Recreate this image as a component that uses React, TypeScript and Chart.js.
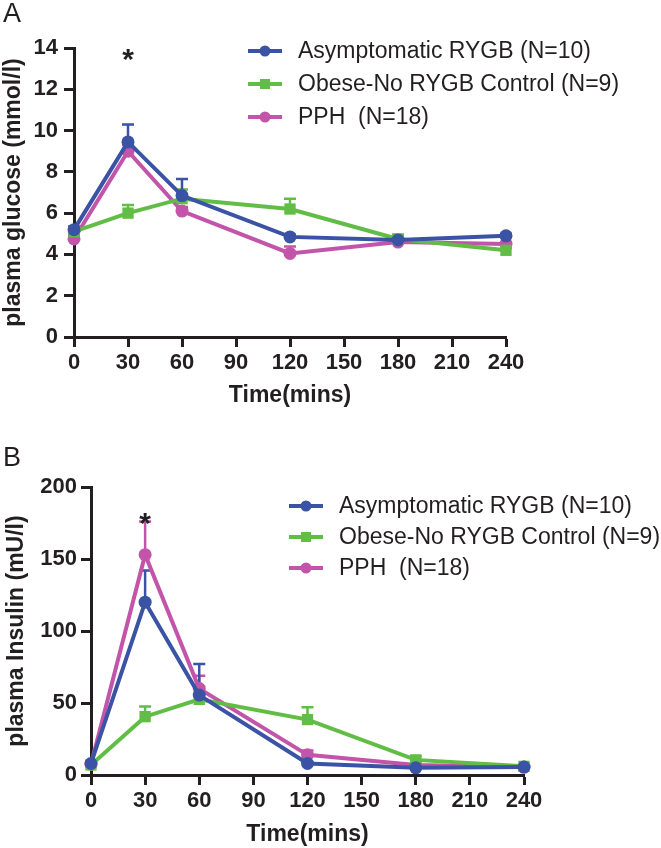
import React, { useEffect, useRef } from 'react';
import { Chart, registerables } from 'chart.js';

Chart.register(...registerables);

// ---------- data ----------
const TIMES = [0, 30, 60, 120, 180, 240];
const SERIES_LABELS = ['Asymptomatic RYGB (N=10)', 'Obese-No RYGB Control (N=9)', 'PPH  (N=18)'];
const SERIES_COLORS = ['#3a53a4', '#62bd46', '#c255aa'];
const SERIES_POINTS = ['circle', 'rect', 'circle'];

// Panel A: plasma glucose (mmol/l)
const GLUCOSE_RYGB = [5.2, 9.45, 6.85, 4.85, 4.7, 4.9];
const GLUCOSE_RYGB_SEM = [0.15, 0.85, 0.8, 0.1, 0.1, 0.1];
const GLUCOSE_CONTROL = [5.1, 6.0, 6.7, 6.2, 4.75, 4.2];
const GLUCOSE_CONTROL_SEM = [0.15, 0.4, 0.45, 0.5, 0.2, 0.1];
const GLUCOSE_PPH = [4.75, 9.0, 6.1, 4.05, 4.6, 4.5];
const GLUCOSE_PPH_SEM = [0.2, 0.3, 0.2, 0.33, 0.15, 0.1];

// Panel B: plasma insulin (mU/l)
const INSULIN_RYGB = [8, 120, 55.5, 8, 5, 5.5];
const INSULIN_RYGB_SEM = [1, 22, 21.5, 1, 1, 1];
const INSULIN_CONTROL = [7, 40.5, 52.5, 38.5, 10.5, 6];
const INSULIN_CONTROL_SEM = [1, 7, 9, 8.5, 2.5, 1];
const INSULIN_PPH = [7.5, 153, 60, 14, 7, 5.5];
const INSULIN_PPH_SEM = [1, 23, 9, 3, 1, 1];

// significance marks (time, level)
const STAR_A = { x: 30, y: 13.8 };
const STAR_B = { x: 30, y: 180 };

const AXIS_COLOR = '#231f20';
const FONT = '"Liberation Sans", Arial, Helvetica, sans-serif';

// ---------- plugins ----------
const errorBarPlugin = {
  id: 'errorBars',
  beforeDatasetsDraw(chart: any) {
    const { ctx } = chart;
    const xs = chart.scales.x;
    const ys = chart.scales.y;
    const dss = chart.data.datasets;
    for (let i = dss.length - 1; i >= 0; i--) {
      const ds = dss[i];
      const sem = ds.sem as number[];
      if (!sem) continue;
      ctx.save();
      ctx.strokeStyle = ds.borderColor;
      ctx.lineWidth = 2.5;
      ds.data.forEach((pt: any, j: number) => {
        const px = xs.getPixelForValue(pt.x);
        const py0 = ys.getPixelForValue(pt.y);
        const py1 = ys.getPixelForValue(pt.y + sem[j]);
        ctx.beginPath();
        ctx.moveTo(px, py0);
        ctx.lineTo(px, py1);
        ctx.moveTo(px - 6, py1);
        ctx.lineTo(px + 6, py1);
        ctx.stroke();
      });
      ctx.restore();
    }
  },
};

const decorPlugin = {
  id: 'decor',
  afterDraw(chart: any) {
    const o = chart.options.plugins.decor;
    if (!o) return;
    const { ctx } = chart;
    ctx.save();
    // panel letter
    ctx.fillStyle = AXIS_COLOR;
    ctx.font = `27px ${FONT}`;
    ctx.textAlign = 'left';
    ctx.textBaseline = 'alphabetic';
    ctx.fillText(o.letter, o.letterX, o.letterY);
    // star
    const sx = chart.scales.x.getPixelForValue(o.star.x);
    const sy = chart.scales.y.getPixelForValue(o.star.y);
    ctx.font = `bold 30px ${FONT}`;
    ctx.textAlign = 'center';
    ctx.fillText('*', sx, sy + 17);
    // legend
    chart.data.datasets.forEach((ds: any, i: number) => {
      const y = o.legendY + i * o.legendGap;
      const x0 = o.legendX;
      ctx.strokeStyle = ds.borderColor;
      ctx.fillStyle = ds.borderColor;
      ctx.lineWidth = 4;
      ctx.beginPath();
      ctx.moveTo(x0, y);
      ctx.lineTo(x0 + 34, y);
      ctx.stroke();
      const cx = x0 + 17;
      ctx.beginPath();
      if (ds.pointStyle === 'rect') {
        ctx.rect(cx - 5, y - 5, 10, 10);
      } else {
        ctx.arc(cx, y, 5.5, 0, Math.PI * 2);
      }
      ctx.fill();
      ctx.fillStyle = AXIS_COLOR;
      ctx.font = `23px ${FONT}`;
      ctx.textAlign = 'left';
      ctx.textBaseline = 'middle';
      ctx.fillText(SERIES_LABELS[i], x0 + 50, y + 1);
    });
    ctx.restore();
  },
};

function makeDatasets(values: number[][], sems: number[][]) {
  return values.map((vals, i) => ({
    label: SERIES_LABELS[i],
    data: vals.map((v, j) => ({ x: TIMES[j], y: v })),
    sem: sems[i],
    borderColor: SERIES_COLORS[i],
    backgroundColor: SERIES_COLORS[i],
    borderWidth: 4,
    pointStyle: SERIES_POINTS[i],
    pointRadius: SERIES_POINTS[i] === 'rect' ? 8 : 6.5,
    pointBorderWidth: 0,
    tension: 0,
    clip: false,
  }));
}

interface PanelCfg {
  values: number[][];
  sems: number[][];
  yMax: number;
  yStep: number;
  yTitle: string;
  padTop: number;
  padRight: number;
  yWidth: number;
  xHeight: number;
  yTickPad: number;
  yTitlePad: number;
  xTitlePad: number;
  decor: any;
}

function buildConfig(c: PanelCfg): any {
  const tickFont = { family: FONT, size: 22, weight: 'bold' as const };
  const titleFont = { family: FONT, size: 23, weight: 'bold' as const };
  return {
    type: 'line',
    data: { datasets: makeDatasets(c.values, c.sems) },
    options: {
      responsive: false,
      animation: false,
      devicePixelRatio: 1,
      layout: { padding: { left: 0, top: c.padTop, right: c.padRight, bottom: 0 } },
      plugins: {
        legend: { display: false },
        tooltip: { enabled: false },
        decor: c.decor,
      },
      scales: {
        x: {
          type: 'linear',
          min: 0,
          max: 240,
          ticks: { stepSize: 30, font: tickFont, color: AXIS_COLOR, padding: 3 },
          grid: { drawOnChartArea: false, tickLength: 10, tickWidth: 3, tickColor: AXIS_COLOR },
          border: { display: true, width: 3, color: AXIS_COLOR },
          title: {
            display: true,
            text: 'Time(mins)',
            font: titleFont,
            color: AXIS_COLOR,
            padding: { top: 0, bottom: c.xTitlePad },
          },
          afterFit: (s: any) => {
            s.height = c.xHeight;
          },
        },
        y: {
          type: 'linear',
          min: 0,
          max: c.yMax,
          ticks: { stepSize: c.yStep, font: tickFont, color: AXIS_COLOR, padding: c.yTickPad },
          grid: { drawOnChartArea: false, tickLength: 10, tickWidth: 3, tickColor: AXIS_COLOR },
          border: { display: true, width: 3, color: AXIS_COLOR },
          title: {
            display: true,
            text: c.yTitle,
            font: titleFont,
            color: AXIS_COLOR,
            padding: { top: c.yTitlePad, bottom: 0 },
          },
          afterFit: (s: any) => {
            s.width = c.yWidth;
          },
        },
      },
    },
    plugins: [errorBarPlugin, decorPlugin],
  };
}

const PANEL_A: PanelCfg = {
  values: [GLUCOSE_RYGB, GLUCOSE_CONTROL, GLUCOSE_PPH],
  sems: [GLUCOSE_RYGB_SEM, GLUCOSE_CONTROL_SEM, GLUCOSE_PPH_SEM],
  yMax: 14,
  yStep: 2,
  yTitle: 'plasma glucose (mmol/l)',
  padTop: 48,
  padRight: 155,
  yWidth: 74,
  xHeight: 87,
  yTickPad: 6,
  yTitlePad: 0,
  xTitlePad: 15,
  decor: {
    letter: 'A', letterX: 3, letterY: 22,
    star: STAR_A,
    legendX: 248, legendY: 51, legendGap: 33,
  },
};

const PANEL_B: PanelCfg = {
  values: [INSULIN_RYGB, INSULIN_CONTROL, INSULIN_PPH],
  sems: [INSULIN_RYGB_SEM, INSULIN_CONTROL_SEM, INSULIN_PPH_SEM],
  yMax: 200,
  yStep: 50,
  yTitle: 'plasma Insulin (mU/l)',
  padTop: 63,
  padRight: 137,
  yWidth: 91,
  xHeight: 73,
  yTickPad: 4,
  yTitlePad: 3,
  xTitlePad: 0,
  decor: {
    letter: 'B', letterX: 3, letterY: 42,
    star: STAR_B,
    legendX: 289, legendY: 82, legendGap: 31,
  },
};

function Panel({ cfg }: { cfg: PanelCfg }) {
  const ref = useRef<HTMLCanvasElement>(null);
  useEffect(() => {
    if (!ref.current) return;
    const chart = new Chart(ref.current, buildConfig(cfg));
    return () => chart.destroy();
  }, [cfg]);
  return (
    <canvas ref={ref} width={661} height={424} style={{ display: 'block', width: 661, height: 424 }} />
  );
}

export default function App() {
  return (
    <div style={{ position: 'absolute', left: 0, top: 0, width: 661, height: 848, background: '#fff' }}>
      <Panel cfg={PANEL_A} />
      <Panel cfg={PANEL_B} />
    </div>
  );
}
